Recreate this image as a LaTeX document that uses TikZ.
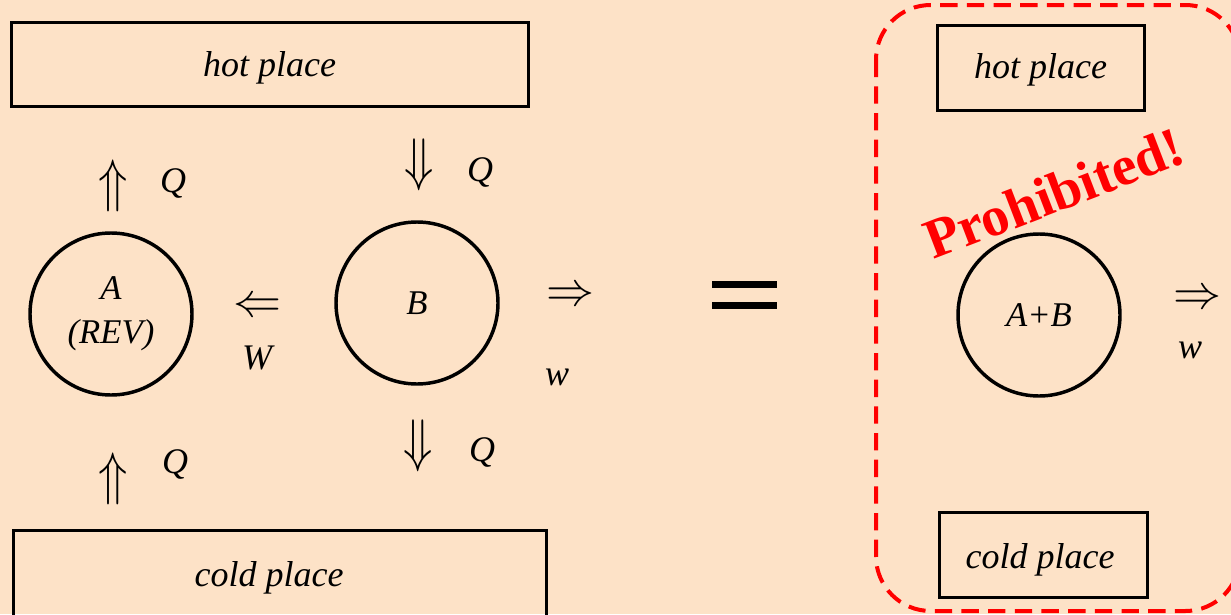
\RequirePackage{fix-cm}
\documentclass[tikz,border=0pt]{standalone}
\usepackage{fontspec}
\setmainfont{Liberation Serif}
\definecolor{bgpeach}{RGB}{253,226,199}
\definecolor{prohred}{RGB}{255,0,0}
\newcommand{\tallarrow}[1]{\scalebox{1}[1.22]{$#1$}}
\tikzset{
  place/.style={draw, line width=2.25pt, inner sep=0pt},
  placetext/.style={inner sep=0pt, font=\fontsize{27}{30}\selectfont\itshape},
  engine/.style={draw, circle, line width=2.6pt, inner sep=0pt, minimum size=121.5pt, font=\fontsize{26}{33}\selectfont\itshape, align=center},
  flow/.style={inner sep=0pt, font=\fontsize{36}{40}\selectfont},
  lab/.style={inner sep=0pt, font=\fontsize{27}{30}\selectfont\itshape},
  prohib/.style={inner sep=0pt, text=prohred, font=\fontsize{42}{46}\selectfont\bfseries},
  eqbar/.style={fill=black, draw=none},
  forbidbox/.style={draw=prohred, line width=3pt, dash pattern=on 13pt off 7pt, rounded corners=41pt}
}
\begin{document}
\begin{tikzpicture}[x=0.75pt,y=-0.75pt]
\useasboundingbox (0,0) rectangle (1231,614);
\fill[bgpeach] (0,0) rectangle (1231,614);
\clip (0,0) rectangle (1231,614);
% left system
\node[place, minimum width=387.75pt, minimum height=63pt] (hotL) at (269.5,64) {};
\node[placetext] (hotLt) at (269.5,68) {hot place};
\node[place, minimum width=399.75pt, minimum height=64.5pt] (coldL) at (279.5,573) {};
\node[placetext] (coldLt) at (269,578) {cold place};
\node[engine] (engA) at (111,314) {A\\(REV)};
\node[engine] (engB) at (417,303) {B};
\node[flow] (upA) at (113,186) {\tallarrow{\Uparrow}};
\node[lab] (qA) at (173,183) {Q};
\node[flow] (downB) at (419,165) {\tallarrow{\Downarrow}};
\node[lab] (qB) at (480,172) {Q};
\node[flow] (leftW) at (257,308) {$\Leftarrow$};
\node[lab] (wW) at (257,358) {W};
\node[flow] (rightw) at (570,297) {$\Rightarrow$};
\node[lab] (ww) at (557,377) {w};
\node[flow] (downB2) at (418,446) {\tallarrow{\Downarrow}};
\node[lab] (qB2) at (482,452) {Q};
\node[flow] (upA2) at (113,479) {\tallarrow{\Uparrow}};
\node[lab] (qA2) at (175,464) {Q};
% equals sign
\fill[eqbar] (712,281) rectangle (777,288);
\fill[eqbar] (712,302) rectangle (777,309);
% right system
\draw[forbidbox] (876,5) rectangle (1240,611);
\node[place, minimum width=155.25pt, minimum height=63.75pt] (hotR) at (1040.5,67.5) {};
\node[placetext] (hotRt) at (1040.5,70) {hot place};
\node[place, minimum width=156pt, minimum height=63.75pt] (coldR) at (1043,554.5) {};
\node[placetext] (coldRt) at (1040,560) {cold place};
\node[engine] (engAB) at (1039,315) {A+B};
\node[flow] (rightw2) at (1197,300) {$\Rightarrow$};
\node[lab] (ww2) at (1190,350) {w};
\node[prohib, rotate=21, anchor=base] (prohibited) at (1061,211) {Prohibited!};
\end{tikzpicture}
\end{document}
